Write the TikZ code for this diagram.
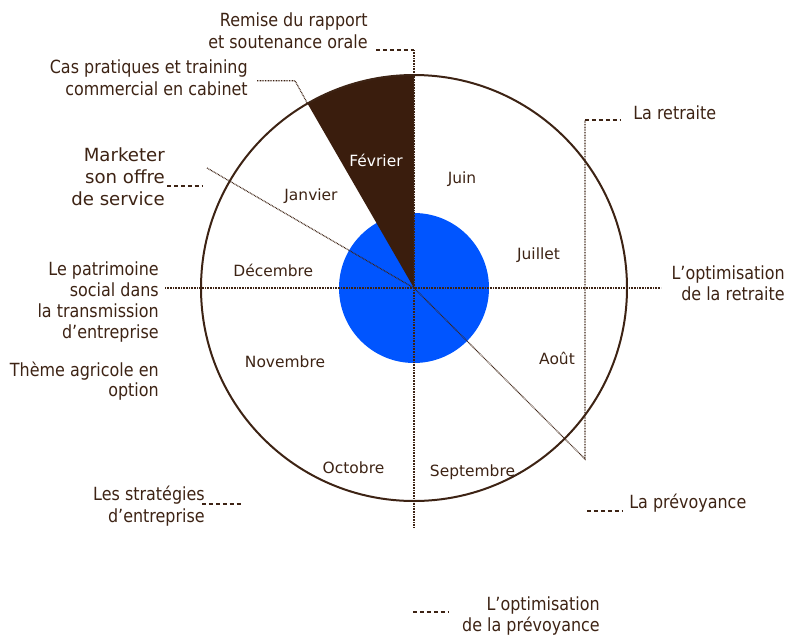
\documentclass[tikz,border=0pt]{standalone}
\usepackage{fontspec}
\setmainfont{DejaVu Sans}
\newfontfamily\serre[FakeStretch=0.88]{DejaVu Sans}
\definecolor{brun}{HTML}{3D2314}
\definecolor{brunfonce}{HTML}{3A1D0D}
\definecolor{bleu}{HTML}{0055FF}
\tikzset{
  mois/.style={anchor=base, inner sep=0pt, text=brun, font=\fontsize{11.6}{14}\selectfont},
  sujet/.style={inner sep=0pt, text=brun, align=right, font=\serre\fontsize{13.6}{16.2}\selectfont},
  pointille/.style={brun, line width=0.9pt, dash pattern=on 0.6pt off 0.6pt},
  tirets/.style={brun, line width=0.8pt, dash pattern=on 3pt off 2.2pt},
}
\begin{document}
\begin{tikzpicture}[x=0.75pt,y=-0.75pt]% ------ Calendrier de la formation -----------------
    \useasboundingbox (0,0) rectangle (789,636);
    \coordinate (c) at (414,288);
    % disque, secteur de fevrier et cercle
    \fill [bleu] (c) circle [radius=75];
    \fill [brunfonce] (c) -- ++(0,-213) arc [start angle=-90, end angle=-120, radius=213] -- cycle;
    \draw [brun, line width=1.5pt] (c) circle [radius=213];
    % points des traits
    \coordinate (remT) at (376,50);  \coordinate (remC) at (414,50);  \coordinate (bas) at (414,528);
    \coordinate (casT) at (257,80.7); \coordinate (casC) at (295,80.7); \coordinate (casA) at (307.5,103.5);
    \coordinate (marT) at (167,186); \coordinate (marC) at (202,186); \coordinate (marD) at (207,168);
    \coordinate (retB) at (585,459); \coordinate (retH) at (585,120); \coordinate (retT) at (620,120);
    \coordinate (gauche) at (165,288); \coordinate (droite) at (661,288);
    \coordinate (strT) at (202,504); \coordinate (strC) at (243,504);
    \coordinate (prvT) at (587,511); \coordinate (prvC) at (622,511);
    \coordinate (oprT) at (413,612); \coordinate (oprC) at (448,612);
    % traits
    \draw [tirets] (remT) -- (remC);
    \draw [pointille] (remC) -- (bas);
    \draw [pointille] (casT) -- (casC) -- (casA);
    \draw [tirets] (marT) -- (marC);
    \draw [pointille] (marD) -- (c);
    \draw [pointille] (c) -- (retB) -- (retH);
    \draw [tirets] (retH) -- (retT);
    \draw [pointille] (gauche) -- (droite);
    \draw [tirets] (strT) -- (strC);
    \draw [tirets] (prvT) -- (prvC);
    \draw [tirets] (oprT) -- (oprC);
    % mois
    \node [mois, text=white] (fev) at (376,166.7) {Février};
    \node [mois] (juin) at (462,183.3) {Juin};
    \node [mois] (jan) at (311,200) {Janvier};
    \node [mois] (juil) at (538.5,259) {Juillet};
    \node [mois] (dec) at (273.3,276) {Décembre};
    \node [mois] (nov) at (285,367) {Novembre};
    \node [mois] (aout) at (557,364) {Août};
    \node [mois] (oct) at (353.5,473.5) {Octobre};
    \node [mois] (sept) at (472.5,476.5) {Septembre};
    % sujets
    \node [sujet, anchor=base east, font=\serre\fontsize{13.6}{16.7}\selectfont] (remise) at (368,48.3) {Remise du rapport\\et soutenance orale};
    \node [sujet, anchor=base east] (cas) at (248,95) {Cas pratiques et training\\commercial en cabinet};
    \node [sujet, anchor=base east, font=\fontsize{13.6}{16.2}\selectfont] (marketer) at (165,205) {Marketer\\son offre\\de service};
    \node [sujet, anchor=base east, font=\serre\fontsize{13.6}{15.6}\selectfont] (patrimoine) at (159,338.3) {Le patrimoine\\social dans\\la transmission\\d’entreprise};
    \node [sujet, anchor=base east, font=\serre\fontsize{13.6}{15}\selectfont] (agricole) at (159,396.7) {Thème agricole en\\option};
    \node [sujet, anchor=base east] (strategies) at (205,522.5) {Les stratégies\\d’entreprise};
    \node [sujet, anchor=base east] (optret) at (785,300.7) {L’optimisation\\de la retraite};
    \node [sujet, anchor=base east] (optprev) at (600,631.7) {L’optimisation\\de la prévoyance};
    \node [sujet, anchor=base west] (retraite) at (633,119.3) {La retraite};
    \node [sujet, anchor=base west] (prevoyance) at (629,508.3) {La prévoyance};
\end{tikzpicture}
\end{document}
